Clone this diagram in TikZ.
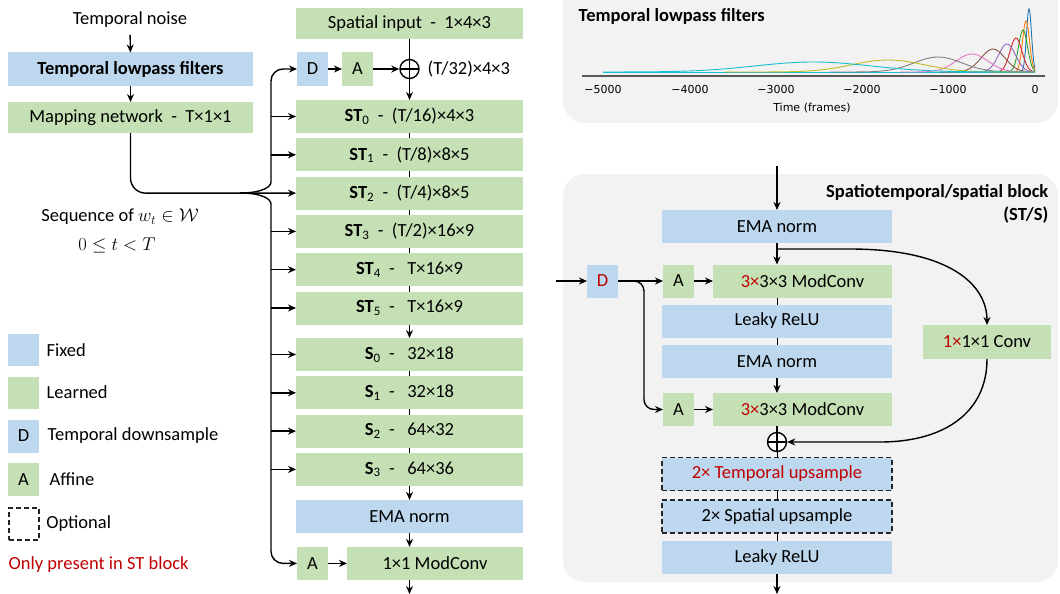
\RequirePackage{fix-cm}
\documentclass[tikz,border=0pt]{standalone}
\usepackage{amsmath}
\usepackage{fontspec}
\setmainfont{Carlito}
\newfontfamily\plotfont{DejaVu Sans}
\usetikzlibrary{positioning,arrows.meta,calc}
\definecolor{fixedblue}{HTML}{BDD7EE}
\definecolor{learnedgreen}{HTML}{C5E0B4}
\definecolor{panelgray}{HTML}{F2F2F2}
\definecolor{stred}{HTML}{C00000}
\definecolor{tabblue}{HTML}{1F77B4}
\definecolor{taborange}{HTML}{FF7F0E}
\definecolor{tabgreen}{HTML}{2CA02C}
\definecolor{tabred}{HTML}{D62728}
\definecolor{tabpurple}{HTML}{9467BD}
\definecolor{tabbrown}{HTML}{8C564B}
\definecolor{tabpink}{HTML}{E377C2}
\definecolor{tabgray}{HTML}{7F7F7F}
\definecolor{tabolive}{HTML}{BCBD22}
\definecolor{tabcyan}{HTML}{17BECF}
\newcommand{\stonly}[1]{\textcolor{stred}{#1}}

\begin{document}
\begin{tikzpicture}[
    x=1pt, y=-1pt,
    font=\fontsize{18.5}{23}\selectfont,
    line width=1.4pt,
    >={Stealth[length=8pt,width=7pt]},
    fixed node/.style={fill=fixedblue, inner sep=0pt, outer sep=0pt, minimum height=33pt},
    learned node/.style={fill=learnedgreen, inner sep=0pt, outer sep=0pt, minimum height=33pt},
    optional node/.style={draw=black!85, dash pattern=on 5pt off 3pt},
    small node/.style={minimum width=31pt},
    col node/.style={minimum width=227pt},
    blk node/.style={minimum width=230pt},
    sum node/.style={circle, draw, fill=white, inner sep=0pt, minimum size=19pt,
      path picture={\draw[line width=1.1pt]
        (path picture bounding box.north) -- (path picture bounding box.south)
        (path picture bounding box.west) -- (path picture bounding box.east);}},
    text node/.style={inner sep=0pt},
    link/.style={line width=1pt}
    ]

    \useasboundingbox (0,0) rectangle (1060,594);

    % panels on the right
    \fill[panelgray, rounded corners=22] (563,-30) rectangle (1058,123);
    \fill[panelgray, rounded corners=22] (563,174) rectangle (1058,582);

    % left: noise and mapping
    \node (noise) at (130,20) {Temporal noise};
    \node[fixed node, minimum width=245pt] (lpf) at (130.5,69) {\textbf{Temporal lowpass filters}};
    \node[learned node, minimum width=245pt, minimum height=31pt] (map) at (130.5,117.5) {Mapping network \ -\ \ T×1×1};
    \node[text node] (seq) at (120,217) {Sequence of $w_t \in \mathcal{W}$};
    \node[text node] (range) at (117,245) {$0 \leq t < T$};

    % main column
    \node[learned node, col node, minimum height=31pt] (sin) at (409.5,23.5) {Spatial input \ -\ \ 1×4×3};
    \node[fixed node, small node] (d0) at (312.5,69) {D};
    \node[learned node, small node, right=14pt of d0] (a0) {A};
    \node[sum node] (plus0) at (409.5,69) {};
    \node[right=4pt of plus0] (size0) {(T/32)×4×3};

    \node[learned node, col node] (st0) at (409.5,116.5) {\textbf{ST}\textsubscript{0} \ -\ \ (T/16)×4×3};
    \node[learned node, col node, below=5.3pt of st0] (st1) {\textbf{ST}\textsubscript{1} \ -\ \ (T/8)×8×5};
    \node[learned node, col node, below=5.3pt of st1] (st2) {\textbf{ST}\textsubscript{2} \ -\ \ (T/4)×8×5};
    \node[learned node, col node, below=5.3pt of st2] (st3) {\textbf{ST}\textsubscript{3} \ -\ \ (T/2)×16×9};
    \node[learned node, col node, below=5.3pt of st3] (st4) {\textbf{ST}\textsubscript{4} \ -\ \ \ T×16×9};
    \node[learned node, col node, below=5.3pt of st4] (st5) {\textbf{ST}\textsubscript{5} \ -\ \ \ T×16×9};
    \node[learned node, col node, below=13.5pt of st5] (s0) {\textbf{S}\textsubscript{0} \ -\ \ \ 32×18};
    \node[learned node, col node, below=5.3pt of s0] (s1) {\textbf{S}\textsubscript{1} \ -\ \ \ 32×18};
    \node[learned node, col node, below=5.3pt of s1] (s2) {\textbf{S}\textsubscript{2} \ -\ \ \ 64×32};
    \node[learned node, col node, below=5.3pt of s2] (s3) {\textbf{S}\textsubscript{3} \ -\ \ \ 64×36};
    \node[fixed node, col node, below=14pt of s3] (ema) {EMA norm};
    \node[learned node, minimum width=176pt, below=14pt of ema.south east, anchor=north east] (mc) {1×1 ModConv};
    \node[learned node, small node] (ma) at (mc.west -| d0) {A};
    \coordinate (out0) at (409.5,594);

    \draw[->, shorten <=3pt] (noise) -- (lpf);
    \draw[->] (lpf) -- (map);
    \draw (sin) -- (plus0);
    \draw[->] (d0) -- (a0);
    \draw[->] (a0) -- (plus0);
    \draw[->] (plus0) -- (st0);
    \draw[link] (st0) -- (st1);
    \draw[link] (st1) -- (st2);
    \draw[link] (st2) -- (st3);
    \draw[link] (st3) -- (st4);
    \draw[link] (st4) -- (st5);
    \draw[->] (st5) -- (s0);
    \draw[link] (s0) -- (s1);
    \draw[link] (s1) -- (s2);
    \draw[link] (s2) -- (s3);
    \draw[->] (s3) -- (ema);
    \draw[->] (ema.south) -- (ema.south |- mc.north);
    \draw[->] (ma) -- (mc);
    \draw[->] (ema.south |- mc.south) -- (out0);

    % w bus
    \coordinate (split) at (240,193);
    \coordinate (bus) at (271,193);
    \draw[->, rounded corners=15] (map.south) |- (st2.west);
    \draw[->, rounded corners=12] (split) .. controls (262,193) and (271,187) .. (271,170) |- (d0.west);
    \draw[->, rounded corners=12] (split) .. controls (262,193) and (271,199) .. (271,216) |- (ma.west);
    \path[->]
      (bus |- st0.west) edge (st0.west)
      (bus |- st1.west) edge (st1.west)
      (bus |- st3.west) edge (st3.west)
      (bus |- st4.west) edge (st4.west)
      (bus |- st5.west) edge (st5.west)
      (bus |- s0.west) edge (s0.west)
      (bus |- s1.west) edge (s1.west)
      (bus |- s2.west) edge (s2.west)
      (bus |- s3.west) edge (s3.west);

    % legend
    \node[fixed node, small node, minimum height=32pt] (lfixed) at (23.5,350) {};
    \node[text node, right=7pt of lfixed] {Fixed};
    \node[learned node, small node, minimum height=32pt] (llearned) at (23.5,392.5) {};
    \node[text node, right=7pt of llearned] {Learned};
    \node[fixed node, small node, minimum height=33pt] (ld) at (23.5,436) {D};
    \node[text node, right=8pt of ld] {Temporal downsample};
    \node[learned node, small node, minimum height=33pt] (la) at (23.5,479.5) {A};
    \node[text node, right=10pt of la] {Affine};
    \node[optional node, line width=1.2pt, minimum width=30pt, minimum height=32pt, inner sep=0pt] (lopt) at (24,524) {};
    \node[text node, right=6pt of lopt] {Optional};
    \node[text node, anchor=west, text=stred] (lst) at (8,565) {Only present in ST block};

    % lowpass filter plot
    \node[text node, anchor=west] (ptitle) at (578,16) {\textbf{Temporal lowpass filters}};
    \draw[tabgray!70!black, line width=1.6pt] (582,76) -- (1045,76);
    \begin{scope}[line width=0.9pt]
      \draw[tabcyan] (603,72) -- (1035,72);
      \draw[tabblue] plot[domain=1018:1035, samples=40, smooth] (\x, {72-63*exp(-0.5*((\x-1029)/2.5)*((\x-1029)/2.5))});
      \draw[taborange] plot[domain=1010:1035, samples=40, smooth] (\x, {72-51*exp(-0.5*((\x-1026)/3.5)*((\x-1026)/3.5))});
      \draw[tabgreen] plot[domain=1003:1035, samples=40, smooth] (\x, {72-42*exp(-0.5*((\x-1023)/4.5)*((\x-1023)/4.5))});
      \draw[tabred] plot[domain=990:1035, samples=40, smooth] (\x, {72-34*exp(-0.5*((\x-1016)/6)*((\x-1016)/6))});
      \draw[tabpurple] plot[domain=970:1035, samples=40, smooth] (\x, {72-28*exp(-0.5*((\x-1007)/8.5)*((\x-1007)/8.5))});
      \draw[tabbrown] plot[domain=940:1035, samples=40, smooth] (\x, {72-23*exp(-0.5*((\x-993)/12)*((\x-993)/12))});
      \draw[tabpink] plot[domain=900:1035, samples=50, smooth] (\x, {72-18*exp(-0.5*((\x-972)/16)*((\x-972)/16))});
      \draw[tabgray] plot[domain=830:1035, samples=50, smooth] (\x, {72-15*exp(-0.5*((\x-938)/24)*((\x-938)/24))});
      \draw[tabolive] plot[domain=725:1035, samples=60, smooth] (\x, {72-12*exp(-0.5*((\x-888)/36)*((\x-888)/36))});
      \draw[tabcyan] plot[domain=603:1035, samples=80, smooth] (\x, {72-10*exp(-0.5*((\x-813)/58)*((\x-813)/58))});
    \end{scope}
    \begin{scope}[font=\plotfont\fontsize{11}{13}\selectfont]
      \node (t5) at (603,89) {−5000};
      \node (t4) at (690,89) {−4000};
      \node (t3) at (776,89) {−3000};
      \node (t2) at (862,89) {−2000};
      \node (t1) at (948,89) {−1000};
      \node (t0) at (1035,89) {0};
      \node (tlabel) at (812,108) {Time (frames)};
    \end{scope}

    % spatiotemporal / spatial block
    \node[text node, anchor=east, align=right] (btitle) at (1049,203.5) {\textbf{Spatiotemporal/spatial block}\\\textbf{(ST/S)}};
    \coordinate (bin) at (777,166);
    \node[fixed node, blk node] (bema1) at (777,226.5) {EMA norm};
    \node[learned node, minimum width=179pt] (bconv1) at (802.5,281) {\stonly{3×}3×3 ModConv};
    \node[learned node, small node, left=19pt of bconv1] (ba1) {A};
    \node[fixed node, small node] (bd) at (602.5,281) {\stonly{D}};
    \coordinate (din) at (556,281);
    \coordinate (dsplit) at (644,281);
    \node[fixed node, blk node] (brelu1) at (777,321) {Leaky ReLU};
    \node[fixed node, blk node] (bema2) at (777,361.5) {EMA norm};
    \node[learned node, minimum width=179pt] (bconv2) at (802.5,409.5) {\stonly{3×}3×3 ModConv};
    \node[learned node, small node, left=19pt of bconv2] (ba2) {A};
    \node[learned node, minimum width=128pt, minimum height=34pt] (conv11) at (987,342) {\stonly{1×}1×1 Conv};
    \node[sum node] (bplus) at (777,442) {};
    \node[fixed node, optional node, blk node] (btup) at (777,474) {\stonly{2× Temporal upsample}};
    \node[fixed node, optional node, blk node] (bsup) at (777,516.5) {2× Spatial upsample};
    \node[fixed node, blk node] (brelu2) at (777,557.5) {Leaky ReLU};
    \coordinate (skip) at (777,249);
    \coordinate (out1) at (777,594);

    \draw[->] (bin) -- (bema1);
    \draw[->] (bema1.south) -- (bema1.south |- bconv1.north);
    \draw[->] (din) -- (bd);
    \draw[->] (bd) -- (ba1);
    \draw[->, rounded corners=10] (bd.east) -| (dsplit |- ba2.west) -- (ba2.west);
    \draw[->] (ba1) -- (bconv1);
    \draw[->] (ba2) -- (bconv2);
    \draw[link] (bema1.south |- bconv1.south) -- (brelu1);
    \draw[link] (brelu1) -- (bema2);
    \draw[->] (bema2) -- (bema2.south |- bconv2.north);
    \draw (bema2.south |- bconv2.south) -- (bplus);
    \draw[->] (skip) -- (850,249) .. controls (950,249) and (987,285) .. (conv11.north);
    \draw[->] (conv11.south) .. controls (987,412) and (945,442) .. (880,442) -- (bplus.east);
    \draw[link] (bplus) -- (btup);
    \draw[link] (btup) -- (bsup);
    \draw[link] (bsup) -- (brelu2);
    \draw[->] (brelu2) -- (out1);
  \end{tikzpicture}
\end{document}
